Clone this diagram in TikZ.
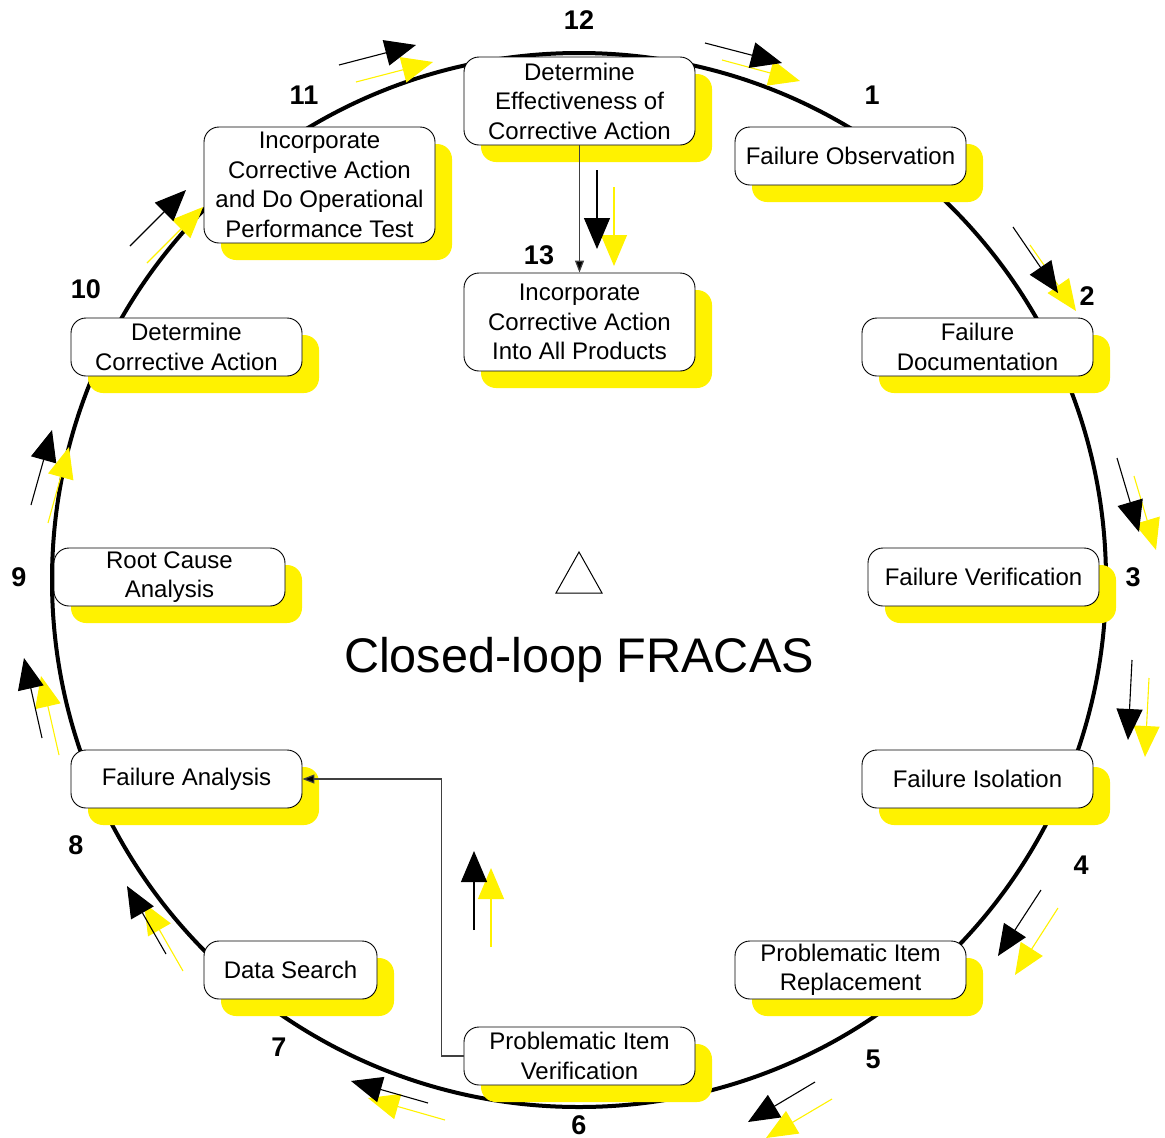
\documentclass[tikz,border=0pt]{standalone}
\usepackage{fontspec}
\setmainfont{Liberation Sans}
\usetikzlibrary{arrows.meta,shadows}
\begin{document}
\begin{tikzpicture}[x=1pt,y=-1pt,
  stepbox/.style={draw=black, line width=0.9pt, fill=white, rounded corners=15pt,
    minimum width=231pt, minimum height=58pt, inner sep=0pt, align=center,
    font=\fontsize{24}{29.5}\selectfont,
    drop shadow={shadow xshift=17pt, shadow yshift=-17pt, fill=yellow, opacity=1}},
  numlabel/.style={font=\fontsize{27}{30}\selectfont\bfseries, inner sep=0pt},
  blkarrow/.style={black, line width=1.1pt, -{Triangle[length=31pt,width=26pt]}},
  ylwarrow/.style={yellow, line width=1.1pt, -{Triangle[length=31pt,width=26pt]}},
  conn/.style={draw=black!75, line width=1.2pt, -{Triangle[length=12pt,width=9pt,fill=black]}}
]
\useasboundingbox (0,0) rectangle (1165,1138);

% the loop
\draw[line width=4pt] (579,580) circle[radius=527];

% process steps
\node[stepbox, minimum height=88pt] (s12) at (579.5,101) {Determine\\Effectiveness of\\Corrective Action};
\node[stepbox] (s1) at (850.5,156) {Failure Observation};
\node[stepbox] (s2) at (977.5,347) {Failure\\Documentation};
\node[stepbox] (s3) at (983.5,577) {Failure Verification};
\node[stepbox] (s4) at (977.5,779) {Failure Isolation};
\node[stepbox] (s5) at (850.5,970) {Problematic Item\\Replacement};
\node[stepbox] (s6) at (579.5,1056) {Problematic Item\\Verification};
\node[stepbox, minimum width=173pt] (s7) at (290.5,970) {Data Search};
\node[stepbox] (s8) at (186.5,779) {Failure Analysis};
\node[stepbox] (s9) at (169.5,577) {Root Cause\\Analysis};
\node[stepbox] (s10) at (186.5,347) {Determine\\Corrective Action};
\node[stepbox, minimum height=116pt] (s11) at (319.5,185) {Incorporate\\Corrective Action\\and Do Operational\\Performance Test};
\node[stepbox, minimum height=98pt] (s13) at (579.5,322) {Incorporate\\Corrective Action\\Into All Products};

% connectors
\draw[conn] (s12) -- (s13);
\draw[conn] (s6.west) -- ++(-22,0) |- (s8.east);

% step numbers
\node[numlabel] (n12) at (579,20) {12};
\node[numlabel] (n1) at (872,95) {1};
\node[numlabel] (n2) at (1087,296) {2};
\node[numlabel] (n3) at (1133,577) {3};
\node[numlabel] (n4) at (1081,865) {4};
\node[numlabel] (n5) at (873,1059) {5};
\node[numlabel] (n6) at (579,1125) {6};
\node[numlabel] (n7) at (279,1047) {7};
\node[numlabel] (n8) at (76,845) {8};
\node[numlabel] (n9) at (19,577) {9};
\node[numlabel] (n10) at (86,289) {10};
\node[numlabel] (n11) at (304,95) {11};
\node[numlabel] (n13) at (539,255) {13};

% direction arrows (black with yellow echo)
\draw[ylwarrow] (722,60) -- (800,81);
\draw[blkarrow] (705,43) -- (782,63);
\draw[ylwarrow] (356,82) -- (433,62);
\draw[blkarrow] (339,65) -- (416,45);
\draw[ylwarrow] (1030,245) -- (1076,311);
\draw[blkarrow] (1013,227) -- (1058,293);
\draw[ylwarrow] (1134,476) -- (1156,550);
\draw[blkarrow] (1117,458) -- (1139,532);
\draw[ylwarrow] (1149,678) -- (1145,757);
\draw[blkarrow] (1132,660) -- (1128,740);
\draw[ylwarrow] (1058,908) -- (1015,975);
\draw[blkarrow] (1041,890) -- (998,956);
\draw[ylwarrow] (832,1099) -- (766,1138);
\draw[blkarrow] (815,1082) -- (748,1122);
\draw[ylwarrow] (445,1120) -- (368,1098);
\draw[blkarrow] (428,1103) -- (351,1081);
\draw[ylwarrow] (183,971) -- (144,903);
\draw[blkarrow] (166,954) -- (127,886);
\draw[ylwarrow] (59,755) -- (41,676);
\draw[blkarrow] (42,738) -- (24,658);
\draw[ylwarrow] (48,523) -- (69,447);
\draw[blkarrow] (31,505) -- (52,430);
\draw[ylwarrow] (147,263) -- (203,207);
\draw[blkarrow] (130,246) -- (186,190);
\draw[ylwarrow] (614,187) -- (614,266);
\draw[blkarrow] (597,170) -- (597,249);
\draw[ylwarrow] (491,947) -- (491,868);
\draw[blkarrow] (474,930) -- (474,851);

% centre mark and title
\draw[line width=1pt] (579,552) -- (602,593) -- (556,593) -- cycle;
\node[font=\fontsize{48.6}{58}\selectfont] (title) at (579,660) {Closed-loop FRACAS};
\end{tikzpicture}
\end{document}
